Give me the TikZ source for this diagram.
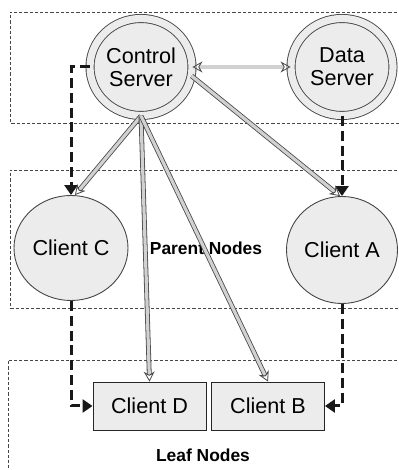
\documentclass[tikz,border=0pt]{standalone}
\usepackage{fontspec}
\setmainfont{Liberation Sans}
\usepackage{tikz}
\usetikzlibrary{shapes.geometric}
\usetikzlibrary{arrows.meta}
\definecolor{Line}{RGB}{70,70,70}
\definecolor{Shade}{RGB}{236,236,236}
\tikzstyle{Server}=[ellipse,draw=Line,line width=.45pt,double=Shade,
double distance=3.6pt,fill=Shade,inner sep=0pt,minimum width=51pt,
minimum height=48.5pt,align=center,font=\fontsize{10.8}{11.5}\selectfont]
\tikzstyle{Client}=[ellipse,draw=Line,line width=.45pt,fill=Shade,
inner sep=0pt,font=\fontsize{10.8}{12}\selectfont]
\tikzstyle{Leaf}=[rectangle,draw=black!85,line width=.45pt,fill=Shade,
minimum width=56.5pt,minimum height=24pt,font=\fontsize{10.8}{12}\selectfont]
\tikzstyle{Zone}=[draw=Line,line width=.4pt,dash pattern=on 1.6pt off 1pt]
\tikzstyle{ZoneST}=[font=\fontsize{8.7}{10}\selectfont\bfseries]
\tikzstyle{Link}=[draw=Line,line width=.4pt,double=black!18,
double distance=1.6pt,-{Stealth[open,length=5pt,width=5.5pt]}]
\tikzstyle{Flow}=[draw=black!90,line width=1.5pt,dash pattern=on 5pt off 2.4pt,
-{Triangle[length=5pt,width=6.5pt]}]

\begin{document}
\begin{tikzpicture}[x=.5pt,y=.5pt]
        \useasboundingbox (0,0) rectangle (398,470);
        % the three zones
        \draw[Zone] (402,458) -- (10,458) -- (10,347) -- (402,347);
        \draw[Zone] (402,300) -- (10,300) -- (10,162) -- (402,162);
        \draw[Zone] (402,110) -- (8,110) -- (8,-5);
        \node[ZoneST](pn)at(206,222){Parent Nodes};
        \node[ZoneST](ln)at(203,15){Leaf Nodes};
        % servers and clients
        \node[Server](cs)at(141,403){Control\\Server};
        \node[Server](ds)at(342,403){Data\\Server};
        \node[Client,minimum width=57pt,minimum height=52.5pt](cc)
                at(71,222){Client C};
        \node[Client,minimum width=55.5pt,minimum height=53.5pt](ca)
                at(342,220){Client A};
        \node[Leaf](cd)at(149.5,64){Client D};
        \node[Leaf](cb)at(268,64){Client B};
        % data flow
        \draw[Flow](cs.west) -| (cc.north);
        \draw[Flow](cc.south) |- (cd.west);
        \draw[Flow](ds.south) -- (ca.north);
        \draw[Flow](ca.south) |- (cb.east);
        % control links
        \draw[Link,{Stealth[open,length=5pt,width=5.5pt]}-{Stealth[open,length=5pt,width=5.5pt]}]
                (cs.east) -- (ds.west);
        \draw[Link](cs.south) -- ([xshift=2pt]cc.north);
        \draw[Link](cs.south) -- (cd.north);
        \draw[Link](cs.south) -- (cb.north);
        \draw[Link](cs.-10) -- ([xshift=-1pt]ca.north);
    \end{tikzpicture}
\end{document}
